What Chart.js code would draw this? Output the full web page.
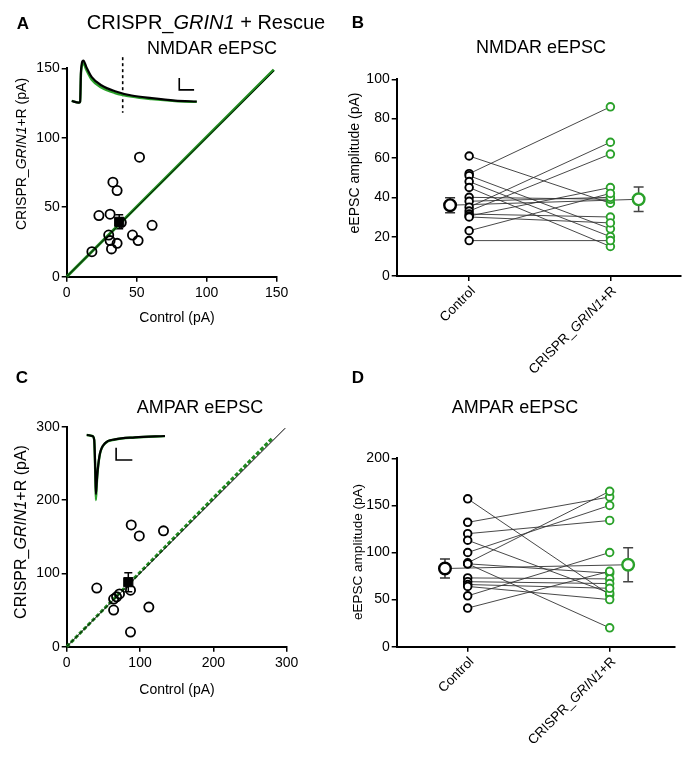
<!DOCTYPE html>
<html>
<head>
<meta charset="utf-8">
<script src="https://cdn.jsdelivr.net/npm/chart.js@4/dist/chart.umd.min.js"></script>
<style>
body{margin:0;background:#fff;width:690px;height:760px;position:relative;overflow:hidden;font-family:"Liberation Sans",Arial,sans-serif;color:#000}
canvas{position:absolute}
.t{position:absolute;white-space:nowrap;line-height:1;transform:translate(-50%,-50%)}
.r{transform:translate(-50%,-50%) rotate(-90deg)}
.p{font-weight:bold;font-size:17px}
</style>
</head>
<body>
<canvas id="cA" width="345" height="345" style="left:0;top:0"></canvas>
<canvas id="cB" width="345" height="400" style="left:345px;top:0"></canvas>
<canvas id="cC" width="345" height="380" style="left:0;top:380px"></canvas>
<canvas id="cD" width="345" height="380" style="left:345px;top:380px"></canvas>

<div class="t p" style="left:23px;top:23px">A</div>
<div class="t" style="left:206px;top:22px;font-size:20px">CRISPR_<i>GRIN1</i> + Rescue</div>
<div class="t" style="left:212px;top:48px;font-size:18px">NMDAR eEPSC</div>
<div class="t r" style="left:21px;top:154px;font-size:14px">CRISPR_<i>GRIN1</i>+R (pA)</div>
<div class="t" style="left:177px;top:317px;font-size:14px">Control (pA)</div>

<div class="t p" style="left:358px;top:22px">B</div>
<div class="t" style="left:541px;top:47px;font-size:18px">NMDAR eEPSC</div>
<div class="t r" style="left:354px;top:163px;font-size:14px">eEPSC amplitude (pA)</div>

<div class="t p" style="left:22px;top:377px">C</div>
<div class="t" style="left:200px;top:407px;font-size:18px">AMPAR eEPSC</div>
<div class="t r" style="left:21px;top:532px;font-size:16px">CRISPR_<i>GRIN1</i>+R (pA)</div>
<div class="t" style="left:177px;top:689px;font-size:14px">Control (pA)</div>

<div class="t p" style="left:358px;top:377px">D</div>
<div class="t" style="left:515px;top:407px;font-size:18px">AMPAR eEPSC</div>
<div class="t r" style="left:358px;top:552px;font-size:13.5px">eEPSC amplitude (pA)</div>

<script>
// ---- data ----
// A: NMDAR, paired cells (control vs CRISPR_GRIN1 + rescue)
const ctrlA = [18, 23, 31, 33, 36, 30, 31, 32, 36, 47, 51, 52, 61, 39];
const rescA = [18, 44, 45, 68, 62, 30, 26, 20, 24, 30, 26, 86, 37, 39];
const meanA = [37.5, 39.5];
const semA = 5;
const unityA = [0, 148];
const fitAx = [0, 148];
const fitAy = [0, 149];
// NMDA example trace (inset), in axis units
const nmdaX = [3.6, 8.5, 9.6, 10.2, 11.9, 14, 17.9, 25, 34.5, 46.4, 60.7, 77.4, 92.9];
const nmdaCtrl = [126.5, 125.3, 126, 148, 155.6, 151, 143.6, 137.6, 133.5, 130.4, 128.5, 126.8, 126.1];
const nmdaResc = [126.5, 125.3, 126, 146, 153.5, 149, 141.8, 136, 132.2, 129.6, 127.8, 126.4, 125.8];
const markX = [40, 40], markY = [158, 118];
const barAx = [80.4, 80.4, 91], barAy = [143, 134.5, 134.5];

// B: NMDAR amplitudes
const ctrlB = [61, 52, 51, 48, 45, 40, 38, 35, 33, 31.5, 30.5, 30, 23, 18];
const rescB = [37, 86, 24, 20, 15, 39, 40, 68, 62, 30, 45, 27, 42, 18];
const meanB = [36, 39];
const semB = [3.8, 6.2];
const meanPosB = [-0.135, 1.2];

// C: AMPAR, paired cells
const ctrlC = [41, 64, 68, 72, 64, 87, 112, 87, 88, 99, 132];
const rescC = [80, 65, 68, 72, 50, 77, 54, 20, 166, 151, 158];
const meanC = [84, 88];
const semC = 13;
const unityC = [0, 298];
const fitCx = [0, 280];
const fitCy = [0, 284];
// AMPA example trace (inset)
const ampaX = [27.3, 35, 37.5, 39, 39.8, 41, 42.3, 45.4, 52.2, 65.9, 93.1, 134];
const ampaCtrl = [288.7, 287.3, 282, 240, 208, 225, 241, 263.7, 277.4, 282.8, 285.5, 287.3];
const ampaResc = [288.7, 287.3, 282, 235, 200, 222, 240, 263, 277, 282.5, 285.3, 287.2];
const barCx = [67.4, 67.4, 89.5], barCy = [271.4, 254.6, 254.6];

// D: AMPAR amplitudes
const ctrlD = [157, 132, 120, 113, 100, 89, 88, 88, 73, 69, 66, 64, 54, 41];
const rescD = [55, 159, 134, 57, 150, 165, 20, 78, 72, 67, 62, 50, 100, 80];
const meanD = [83, 87];
const semD = [10, 18];
const meanPosD = [-0.16, 1.13];

const groups = ['Control', 'CRISPR_GRIN1+R'];

// ---- styling ----
const FONT = '"Liberation Sans", Arial, sans-serif';
const GREEN = '#2aa12a';
const GREEN_DK = '#1f8a1f';

const pts = (xs, ys) => xs.map((x, i) => ({x: x, y: ys[i]}));

// extra drawing per chart: error bars and rich category labels
const EXTRAS = {};
const catSegs = {
  'Control': [['Control', false]],
  'CRISPR_GRIN1+R': [['CRISPR_', false], ['GRIN1', true], ['+R', false]]
};

const extrasPlugin = {
  id: 'extras',
  beforeDatasetsDraw(chart) {
    const ex = EXTRAS[chart.canvas.id];
    if (!ex) return;
    const ctx = chart.ctx, sx = chart.scales.x, sy = chart.scales.y;
    (ex.bars || []).forEach(b => {
      const px = sx.getPixelForValue(b.x);
      const top = sy.getPixelForValue(b.y + b.e), bot = sy.getPixelForValue(b.y - b.e);
      ctx.save();
      ctx.strokeStyle = b.color;
      ctx.lineWidth = 1.5;
      ctx.beginPath();
      ctx.moveTo(px, top); ctx.lineTo(px, bot);
      ctx.moveTo(px - b.cap, top); ctx.lineTo(px + b.cap, top);
      ctx.moveTo(px - b.cap, bot); ctx.lineTo(px + b.cap, bot);
      ctx.stroke();
      ctx.restore();
    });
  },
  afterDraw(chart) {
    const ex = EXTRAS[chart.canvas.id];
    if (!ex || !ex.cats) return;
    const ctx = chart.ctx, sx = chart.scales.x;
    const size = 13.5;
    groups.forEach((g, i) => {
      const segs = catSegs[g];
      const px = sx.getPixelForValue(i);
      let w = 0;
      segs.forEach(([t, it]) => { ctx.font = (it ? 'italic ' : '') + size + 'px ' + FONT; w += ctx.measureText(t).width; });
      ctx.save();
      ctx.translate(px + 4, sx.top + 13);
      ctx.rotate(-Math.PI / 4);
      ctx.fillStyle = '#000';
      ctx.textBaseline = 'middle';
      ctx.textAlign = 'left';
      let x = -w;
      segs.forEach(([t, it]) => {
        ctx.font = (it ? 'italic ' : '') + size + 'px ' + FONT;
        ctx.fillText(t, x, 0);
        x += ctx.measureText(t).width;
      });
      ctx.restore();
    });
  }
};

function axis(min, max, step, fit, more) {
  return Object.assign({
    type: 'linear', min: min, max: max,
    border: {display: true, color: '#000', width: 2},
    grid: {drawOnChartArea: false, drawTicks: true, tickLength: 5, color: '#000', lineWidth: 1.5},
    ticks: {stepSize: step, color: '#000', font: {family: FONT, size: 14}, padding: 3, maxRotation: 0},
    afterFit: fit
  }, more || {});
}

// box: canvas position, plot: plot area in page coords
function makeChart(id, box, plot, scales, datasets) {
  const yW = plot.l - box.left, xH = box.top + box.h - plot.b;
  scales.x.afterFit = s => { s.height = xH; s.paddingLeft = 0; s.paddingRight = 0; };
  scales.y.afterFit = s => { s.width = yW; s.paddingTop = 0; s.paddingBottom = 0; };
  return new Chart(document.getElementById(id), {
    type: 'scatter',
    data: {datasets: datasets},
    options: {
      responsive: false, animation: false, devicePixelRatio: 1,
      layout: {padding: {left: 0, bottom: 0, top: plot.t - box.top, right: box.left + box.w - plot.r}},
      plugins: {legend: {display: false}, tooltip: {enabled: false}},
      scales: scales
    },
    plugins: [extrasPlugin]
  });
}

function line(data, color, width, more) {
  return Object.assign({data: data, showLine: true, borderColor: color, borderWidth: width,
    pointRadius: 0, clip: false}, more || {});
}
function dots(data, color, r, bw, fill) {
  return {data: data, showLine: false, pointRadius: r, pointBorderColor: color, pointBorderWidth: bw,
    pointBackgroundColor: fill, clip: false};
}

// ---- A ----
EXTRAS.cA = {bars: [{x: meanA[0], y: meanA[1], e: semA, cap: 4, color: '#000'}]};
makeChart('cA', {left: 0, top: 0, w: 345, h: 345}, {l: 66.7, r: 276.7, t: 68.3, b: 276.7},
  {x: axis(0, 150, 50), y: axis(0, 150, 50, null, {ticks: {stepSize: 50, color: '#000', font: {family: FONT, size: 14}, padding: 2}})},
  [
    {data: [{x: meanA[0], y: meanA[1]}], pointStyle: 'rect', pointRadius: 6.5, pointBackgroundColor: '#000', pointBorderColor: '#000', clip: false},
    dots(pts(ctrlA, rescA), '#000', 4.6, 1.8, 'rgba(0,0,0,0)'),
    line(pts(unityA, unityA), '#000', 0.9),
    line(pts(fitAx, fitAy), GREEN_DK, 3),
    line(pts(nmdaX, nmdaCtrl), '#000', 2.2, {cubicInterpolationMode: 'monotone'}),
    line(pts(nmdaX, nmdaResc), GREEN, 2.4, {cubicInterpolationMode: 'monotone'}),
    line(pts(markX, markY), '#000', 1.6, {borderDash: [3, 3]}),
    line(pts(barAx, barAy), '#000', 1.6)
  ]);

// ---- B ----
function pairedDatasets(ctrl, resc, means, meanPos) {
  const ds = [
    dots([{x: meanPos[1], y: means[1]}], GREEN, 5.8, 2.4, '#fff'),
    dots([{x: meanPos[0], y: means[0]}], '#000', 5.8, 2.4, '#fff'),
    dots(resc.map(v => ({x: 1, y: v})), GREEN, 3.8, 1.9, '#fff'),
    dots(ctrl.map(v => ({x: 0, y: v})), '#000', 3.8, 1.9, '#fff')
  ];
  ctrl.forEach((c, i) => ds.push(line([{x: 0, y: c}, {x: 1, y: resc[i]}], '#333', 0.9)));
  ds.push(line([{x: meanPos[0], y: means[0]}, {x: meanPos[1], y: means[1]}], '#333', 0.9));
  return ds;
}
function catAxis(min, max) {
  return axis(min, max, 1, null, {
    ticks: {display: false},
    afterBuildTicks: s => { s.ticks = groups.map((g, i) => ({value: i})); }
  });
}

EXTRAS.cB = {cats: true, bars: [
  {x: meanPosB[0], y: meanB[0], e: semB[0], cap: 5, color: '#333'},
  {x: meanPosB[1], y: meanB[1], e: semB[1], cap: 5, color: '#444'}
]};
makeChart('cB', {left: 345, top: 0, w: 345, h: 400}, {l: 396.7, r: 681, t: 79.3, b: 276},
  {x: catAxis(-0.513, 1.5), y: axis(0, 100, 20, null, {ticks: {stepSize: 20, color: '#000', font: {family: FONT, size: 14}, padding: 2}})},
  pairedDatasets(ctrlB, rescB, meanB, meanPosB));

// ---- C ----
EXTRAS.cC = {bars: [{x: meanC[0], y: meanC[1], e: semC, cap: 4, color: '#000'}]};
makeChart('cC', {left: 0, top: 380, w: 345, h: 380}, {l: 66.7, r: 286.7, t: 426.7, b: 646.7},
  {x: axis(0, 300, 100), y: axis(0, 300, 100, null, {ticks: {stepSize: 100, color: '#000', font: {family: FONT, size: 14}, padding: 2}})},
  [
    {data: [{x: meanC[0], y: meanC[1]}], pointStyle: 'rect', pointRadius: 6.5, pointBackgroundColor: '#000', pointBorderColor: '#000', clip: false},
    dots(pts(ctrlC, rescC), '#000', 4.6, 1.8, 'rgba(0,0,0,0)'),
    line(pts(unityC, unityC), '#000', 1),
    line(pts(fitCx, fitCy), GREEN_DK, 3, {borderDash: [4, 2]}),
    line(pts(ampaX, ampaCtrl), '#000', 2.2, {cubicInterpolationMode: 'monotone'}),
    line(pts(ampaX, ampaResc), GREEN, 2.4, {cubicInterpolationMode: 'monotone'}),
    line(pts(barCx, barCy), '#000', 1.6)
  ]);

// ---- D ----
EXTRAS.cD = {cats: true, bars: [
  {x: meanPosD[0], y: meanD[0], e: semD[0], cap: 5, color: '#333'},
  {x: meanPosD[1], y: meanD[1], e: semD[1], cap: 5, color: '#444'}
]};
makeChart('cD', {left: 345, top: 380, w: 345, h: 380}, {l: 396.7, r: 675, t: 458.3, b: 646.7},
  {x: catAxis(-0.50, 1.46), y: axis(0, 200, 50, null, {ticks: {stepSize: 50, color: '#000', font: {family: FONT, size: 14}, padding: 2}})},
  pairedDatasets(ctrlD, rescD, meanD, meanPosD));
</script>
</body>
</html>
